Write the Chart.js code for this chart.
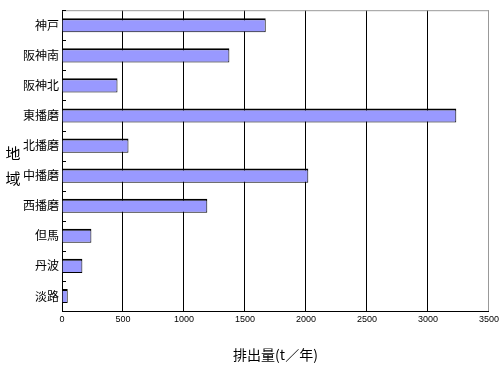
<!DOCTYPE html>
<html>
<head>
<meta charset="utf-8">
<script src="https://cdn.jsdelivr.net/npm/chart.js@4"></script>
<style>
  html, body { margin: 0; padding: 0; background: #fff; }
  #wrap { width: 502px; height: 369px; }
</style>
</head>
<body>
<div id="wrap"><canvas id="chart"></canvas></div>
<script>
// 地域別 排出量
const regions = ['神戸', '阪神南', '阪神北', '東播磨', '北播磨', '中播磨', '西播磨', '但馬', '丹波', '淡路']
const amounts = [1670, 1372, 455, 3232, 545, 2019, 1191, 241, 167, 47]
const xTicks = [0, 500, 1000, 1500, 2000, 2500, 3000, 3500]
const xTitle = '排出量(t／年)'
const yTitle = ['地', '域']

const jpFont = '"Noto Sans CJK JP", "Noto Sans", sans-serif'

// 縦書きの軸タイトル、上の枠線、左軸の内向き目盛り
const extras = {
    id: 'extras',
    afterDraw(chart) {
        const { ctx, chartArea } = chart
        const { left, right, top, bottom } = chartArea
        ctx.save()
        ctx.strokeStyle = '#999'
        ctx.lineWidth = 1
        ctx.beginPath()
        ctx.moveTo(left, top + 0.5)
        ctx.lineTo(right, top + 0.5)
        ctx.stroke()

        ctx.strokeStyle = '#000'
        const step = (bottom - top) / regions.length
        for (let i = 0; i <= regions.length; i++) {
            const y = Math.round(top + i * step) + 0.5
            ctx.beginPath()
            ctx.moveTo(left, y)
            ctx.lineTo(left + 4, y)
            ctx.stroke()
        }

        ctx.fillStyle = '#000'
        ctx.font = '15px ' + jpFont
        ctx.textAlign = 'center'
        ctx.textBaseline = 'middle'
        ctx.fillText(yTitle[0], 13, 153)
        ctx.fillText(yTitle[1], 13, 178)
        ctx.restore()
    },
}

new Chart(document.getElementById('chart'), {
    type: 'bar',
    data: {
        labels: regions,
        datasets: [
            {
                data: amounts,
                backgroundColor: '#9999ff',
                borderColor: '#000',
                borderWidth: { top: 2, right: 1, bottom: 1, left: 0 },
                borderSkipped: false,
                categoryPercentage: 1,
                barPercentage: 0.47,
            },
        ],
    },
    options: {
        indexAxis: 'y',
        responsive: true,
        maintainAspectRatio: false,
        animation: false,
        layout: { padding: { top: 10, right: 13, left: 0, bottom: 0 } },
        plugins: {
            legend: { display: false },
            tooltip: { enabled: false },
        },
        scales: {
            x: {
                type: 'linear',
                min: 0,
                max: 3500,
                afterBuildTicks: (scale) => {
                    scale.ticks = xTicks.map((v) => ({ value: v }))
                },
                afterFit: (scale) => {
                    scale.height = 58
                },
                grid: {
                    color: (c) => (c.tick && c.tick.value === 3500 ? '#999' : '#000'),
                    drawTicks: false,
                },
                border: { color: '#000', width: 1 },
                ticks: {
                    padding: 3,
                    color: '#000',
                    font: { family: '"Liberation Sans Narrow", "Arial Narrow", sans-serif', size: 9 },
                    maxRotation: 0,
                    callback: (value) => String(value),
                },
                title: {
                    display: true,
                    text: xTitle,
                    color: '#000',
                    font: { family: jpFont, size: 14 },
                    padding: { top: 0, bottom: 6 },
                },
            },
            y: {
                afterFit: (scale) => {
                    scale.width = 62
                },
                grid: { display: false, drawTicks: false },
                border: { color: '#000', width: 1 },
                ticks: {
                    padding: 3,
                    color: '#000',
                    font: { family: jpFont, size: 12 },
                },
            },
        },
    },
    plugins: [extras],
})
</script>
</body>
</html>
